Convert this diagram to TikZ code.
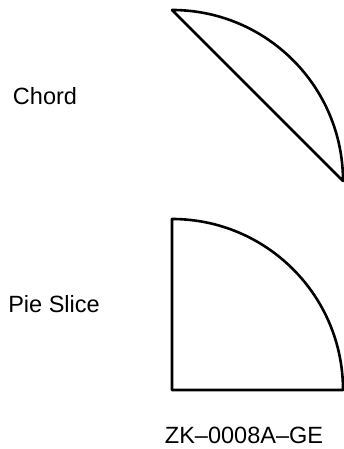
\documentclass[tikz,border=0pt]{standalone}
\usepackage{fontspec}
\setmainfont{Liberation Sans}
\usetikzlibrary{calc}
\begin{document}
\begin{tikzpicture}[x=1pt, y=1pt,
            outline/.style={draw, line width=2.6pt, line join=round},
            lbl/.style={font=\fontsize{23.5}{28}\selectfont, inner sep=0pt}
            ]
            \useasboundingbox (0,0) rectangle (344,449);
            \node[lbl] (chordlbl) at (45,353) {Chord};
            \node[lbl] (pielbl) at (54,145) {Pie Slice};
            \node[lbl] (figid) at (244,14) {ZK--0008A--GE};

            \coordinate (c1) at (172,268);
            \coordinate (c2) at (172,59);

            \draw[outline] ($(c1)+(0,171)$) arc (90:0:171) -- cycle;
            \draw[outline] (c2) -- ++(0,171) arc (90:0:171) -- cycle;
            \end{tikzpicture}
\end{document}
